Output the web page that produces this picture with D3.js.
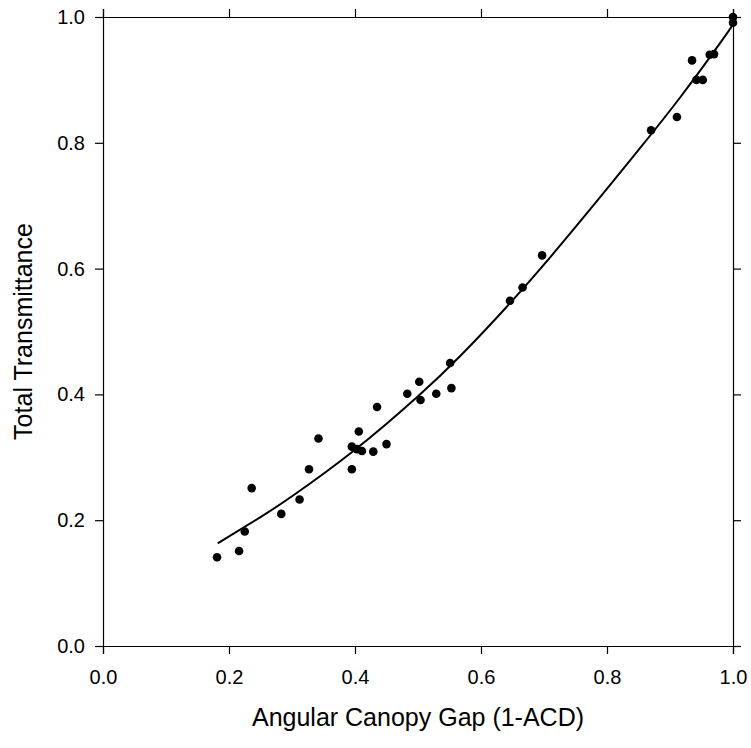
<!DOCTYPE html>
<html>
<head>
<meta charset="utf-8">
<script src="https://cdn.jsdelivr.net/npm/d3@7"></script>
<style>
  body{margin:0;background:#fff;}
  text{font-family:"Liberation Sans",Arial,sans-serif;fill:#000;}
  .axis path,.axis line{stroke:#000;stroke-width:1.2px;}
</style>
</head>
<body>
<svg id="chart"></svg>
<script>
// observed points
var gap=[0.181,0.216,0.225,0.236,0.283,0.312,0.327,0.342,0.395,0.395,0.403,0.406,0.411,0.429,0.435,0.450,
         0.483,0.502,0.504,0.529,0.551,0.553,0.646,0.666,0.697,0.870,0.911,0.935,0.942,0.952,0.963,0.970,1.0,1.0];
var trans=[0.141,0.151,0.182,0.251,0.210,0.233,0.281,0.330,0.281,0.317,0.313,0.341,0.310,0.309,0.380,0.321,
           0.401,0.420,0.391,0.401,0.450,0.410,0.549,0.570,0.621,0.820,0.841,0.931,0.900,0.900,0.940,0.941,0.991,1.0];
// fitted curve
var fitX=[0.182,0.25,0.30,0.40,0.50,0.567,0.646,0.725,0.805,0.852,0.916,0.982,1.0];
var fitY=[0.163,0.205,0.238,0.312,0.397,0.461,0.545,0.636,0.733,0.791,0.872,0.962,0.988];
var ticks=[0,0.2,0.4,0.6,0.8,1.0];

var w=751;
var h=748;
var margin={left:103,right:18,top:17,bottom:102};

var svg=d3.select("#chart")
          .attr("width",w)
          .attr("height",h);

var xScale=d3.scaleLinear()
             .domain([0,1])
             .range([margin.left,w-margin.right]);
var yScale=d3.scaleLinear()
             .domain([0,1])
             .range([h-margin.bottom,margin.top]);

var fmt=d3.format(".1f");

// axes on all four sides, ticks outward
svg.append("g")
   .classed("axis",true)
   .attr("transform","translate(0,"+(h-margin.bottom)+")")
   .call(d3.axisBottom(xScale).tickValues(ticks).tickFormat(fmt).tickSize(8).tickPadding(16));
svg.append("g")
   .classed("axis",true)
   .attr("transform","translate(0,"+margin.top+")")
   .call(d3.axisTop(xScale).tickValues(ticks).tickFormat("").tickSize(8));
svg.append("g")
   .classed("axis",true)
   .attr("transform","translate("+margin.left+",0)")
   .call(d3.axisLeft(yScale).tickValues(ticks).tickFormat(fmt).tickSize(8).tickPadding(10));
svg.append("g")
   .classed("axis",true)
   .attr("transform","translate("+(w-margin.right)+",0)")
   .call(d3.axisRight(yScale).tickValues(ticks).tickFormat("").tickSize(8));

svg.selectAll(".axis text").style("font-size","20px");

// fitted line
var line=d3.line()
           .x(function(d){return xScale(d[0]);})
           .y(function(d){return yScale(d[1]);})
           .curve(d3.curveNatural);
svg.append("path")
   .datum(d3.zip(fitX,fitY))
   .attr("d",line)
   .attr("fill","none")
   .attr("stroke","#000")
   .attr("stroke-width",2);

// points
svg.selectAll(".pt")
   .data(d3.zip(gap,trans))
   .enter()
   .append("circle")
   .classed("pt",true)
   .attr("cx",function(d){return xScale(d[0]);})
   .attr("cy",function(d){return yScale(d[1]);})
   .attr("r",4.3)
   .attr("fill","#000");

// axis titles
svg.append("text")
   .attr("x",(xScale(0)+xScale(1))/2)
   .attr("y",726)
   .attr("text-anchor","middle")
   .style("font-size","25px")
   .text("Angular Canopy Gap (1-ACD)");
svg.append("text")
   .attr("transform","translate(32,"+((yScale(0)+yScale(1))/2)+") rotate(-90)")
   .attr("text-anchor","middle")
   .style("font-size","25px")
   .text("Total Transmittance");
</script>
</body>
</html>
